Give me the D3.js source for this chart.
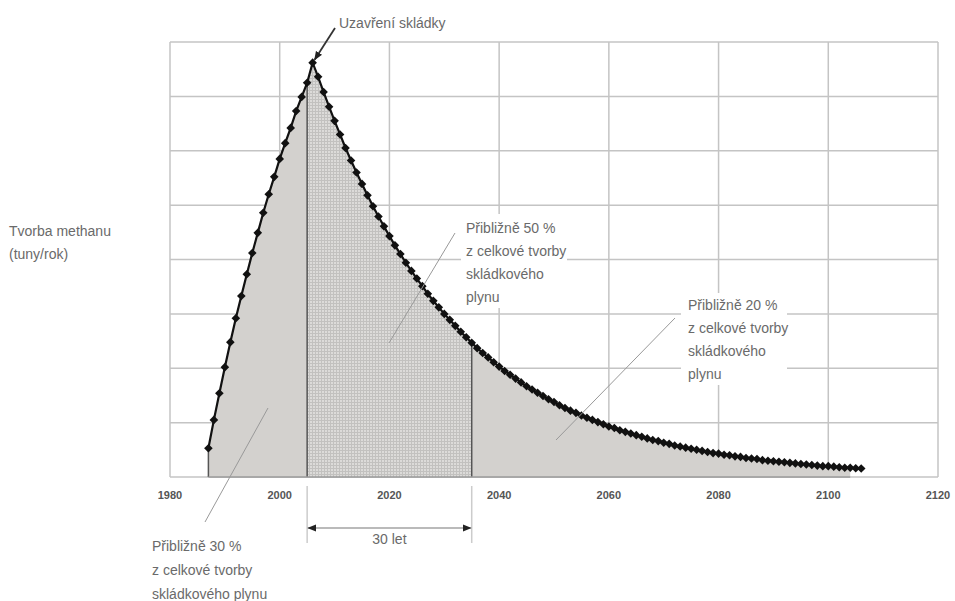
<!DOCTYPE html>
<html>
<head>
<meta charset="utf-8">
<script src="https://cdn.jsdelivr.net/npm/d3@7"></script>
<style>
body { margin: 0; background: #fff; }
text { font-family: "Liberation Sans", Arial, sans-serif; }
</style>
</head>
<body>
<div id="container"></div>
<script>
// methane production per year (arbitrary units, 8 grid bands), 1987..2106
let firstYear = 1987;
let methane = [
  0.53, 1.05, 1.54, 2.02, 2.48, 2.92, 3.33, 3.73, 4.12, 4.49,
  4.86, 5.20, 5.52, 5.85, 6.14, 6.42, 6.73, 6.99, 7.25, 7.62,
  7.36, 7.08, 6.81, 6.55, 6.30, 6.05, 5.82, 5.60, 5.39, 5.18,
  4.98, 4.79, 4.61, 4.43, 4.26, 4.10, 3.94, 3.79, 3.65, 3.51,
  3.37, 3.24, 3.12, 3.00, 2.89, 2.78, 2.67, 2.57, 2.47, 2.37,
  2.28, 2.20, 2.11, 2.03, 1.95, 1.88, 1.81, 1.74, 1.67, 1.61,
  1.55, 1.49, 1.43, 1.38, 1.32, 1.27, 1.22, 1.18, 1.13, 1.09,
  1.05, 1.01, 0.97, 0.93, 0.90, 0.86, 0.83, 0.80, 0.77, 0.74,
  0.71, 0.68, 0.66, 0.63, 0.61, 0.58, 0.56, 0.54, 0.52, 0.50,
  0.48, 0.46, 0.44, 0.43, 0.41, 0.40, 0.38, 0.37, 0.35, 0.34,
  0.33, 0.31, 0.30, 0.29, 0.28, 0.27, 0.26, 0.25, 0.24, 0.23,
  0.22, 0.21, 0.20, 0.20, 0.19, 0.18, 0.17, 0.17, 0.16, 0.155
];
let xTicks = [1980, 2000, 2020, 2040, 2060, 2080, 2100, 2120];
let yGrid = [0, 1, 2, 3, 4, 5, 6, 7, 8];
let closureYear = 2005;
let periodEnd = 2035;
let fillEnd = 2104;

let yAxisLabel = ["Tvorba methanu", "(tuny/rok)"];
let closureLabel = "Uzavření skládky";
let note50 = ["Přibližně 50 %", "z celkové tvorby", "skládkového", "plynu"];
let note20 = ["Přibližně 20 %", "z celkové tvorby", "skládkového", "plynu"];
let note30 = ["Přibližně 30 %", "z celkové tvorby", "skládkového plynu"];
let periodLabel = "30 let";

let w = 955;
let h = 601;

let data = methane.map(function(v, i){ return {year: firstYear + i, value: v}; });

let xScale = d3.scaleLinear().domain([1980, 2120]).range([170, 938]);
let yScale = d3.scaleLinear().domain([0, 8]).range([477, 42]);

let viz = d3.select("#container")
  .append("svg")
    .attr("width", w)
    .attr("height", h)
    .style("background-color", "white")
;

let defs = viz.append("defs");

let pat = defs.append("pattern")
    .attr("id", "mesh")
    .attr("width", 3)
    .attr("height", 3)
    .attr("patternUnits", "userSpaceOnUse")
;
pat.append("rect").attr("width", 3).attr("height", 3).attr("fill", "#dcdbd9");
pat.append("path").attr("d", "M0,0.5H3M0.5,0V3").attr("stroke", "#c2c1bf").attr("stroke-width", 1);

defs.append("marker")
    .attr("id", "arrow")
    .attr("viewBox", "0 0 10 10")
    .attr("refX", 9)
    .attr("refY", 5)
    .attr("markerWidth", 9)
    .attr("markerHeight", 9)
    .attr("markerUnits", "userSpaceOnUse")
    .attr("orient", "auto-start-reverse")
  .append("path")
    .attr("d", "M0,1L10,5L0,9Z")
    .attr("fill", "#222")
;

// grid
viz.append("g").selectAll("line").data(xTicks).enter().append("line")
    .attr("x1", function(d){ return xScale(d); })
    .attr("x2", function(d){ return xScale(d); })
    .attr("y1", yScale(8))
    .attr("y2", yScale(0))
    .attr("stroke", "#c4c4c4")
    .attr("stroke-width", 1.5)
;
viz.append("g").selectAll("line").data(yGrid).enter().append("line")
    .attr("x1", xScale(1980))
    .attr("x2", xScale(2120))
    .attr("y1", function(d){ return yScale(d); })
    .attr("y2", function(d){ return yScale(d); })
    .attr("stroke", "#c4c4c4")
    .attr("stroke-width", 1.5)
;

// filled areas
let area = d3.area()
    .x(function(d){ return xScale(d.year); })
    .y0(yScale(0))
    .y1(function(d){ return yScale(d.value); })
;

viz.append("path")
    .datum(data.filter(function(d){ return d.year <= fillEnd; }))
    .attr("d", area)
    .attr("fill", "#d3d1ce")
;

viz.append("path")
    .datum(data.filter(function(d){ return d.year >= closureYear && d.year <= periodEnd; }))
    .attr("d", area)
    .attr("fill", "url(#mesh)")
;

function valueAt(yr){
    return data.find(function(d){ return d.year == yr; }).value;
}

// region boundaries
viz.append("g").selectAll("line").data([firstYear, closureYear, periodEnd]).enter().append("line")
    .attr("x1", function(d){ return xScale(d); })
    .attr("x2", function(d){ return xScale(d); })
    .attr("y1", yScale(0))
    .attr("y2", function(d){ return yScale(valueAt(d)); })
    .attr("stroke", "#555")
    .attr("stroke-width", 1.5)
;

viz.append("line")
    .attr("x1", xScale(firstYear))
    .attr("x2", xScale(fillEnd))
    .attr("y1", yScale(0))
    .attr("y2", yScale(0))
    .attr("stroke", "#9a9a9a")
    .attr("stroke-width", 1.5)
;

// curve + markers
let line = d3.line()
    .x(function(d){ return xScale(d.year); })
    .y(function(d){ return yScale(d.value); })
;
viz.append("path")
    .datum(data)
    .attr("d", line)
    .attr("fill", "none")
    .attr("stroke", "#111")
    .attr("stroke-width", 2.2)
;
viz.append("g").selectAll("path").data(data).enter().append("path")
    .attr("d", "M0,-4.3L4.3,0L0,4.3L-4.3,0Z")
    .attr("transform", function(d){ return "translate(" + xScale(d.year) + "," + yScale(d.value) + ")"; })
    .attr("fill", "#111")
;

// tick labels
viz.append("g").selectAll("text").data(xTicks).enter().append("text")
    .text(function(d){ return d; })
    .attr("x", function(d){ return xScale(d); })
    .attr("y", 499)
    .attr("text-anchor", "middle")
    .attr("fill", "#555")
    .style("font-size", "11px")
    .style("font-weight", "bold")
;

// text blocks
function textBlock(lines, x, y, gap){
    let g = viz.append("g");
    g.selectAll("text").data(lines).enter().append("text")
        .text(function(d){ return d; })
        .attr("x", x)
        .attr("y", function(d, i){ return y + i * gap; })
        .attr("fill", "#6a6a6a")
        .style("font-size", "14px")
    ;
    return g;
}

textBlock(yAxisLabel, 9, 236, 23);

// 50 % note
viz.append("line").attr("x1", 455).attr("y1", 233).attr("x2", 389).attr("y2", 343)
    .attr("stroke", "#999").attr("stroke-width", 1);
viz.append("rect").attr("x", 461).attr("y", 214).attr("width", 106).attr("height", 94).attr("fill", "white");
textBlock(note50, 466, 233, 23);

// 20 % note
viz.append("line").attr("x1", 675).attr("y1", 318).attr("x2", 556).attr("y2", 440)
    .attr("stroke", "#999").attr("stroke-width", 1);
viz.append("rect").attr("x", 681).attr("y", 293).attr("width", 106).attr("height", 92).attr("fill", "white");
textBlock(note20, 688, 310, 23);

// 30 % note
viz.append("line").attr("x1", 268).attr("y1", 408).attr("x2", 205).attr("y2", 522)
    .attr("stroke", "#999").attr("stroke-width", 1);
textBlock(note30, 152, 551, 24);

// closure arrow
viz.append("line")
    .attr("x1", 335).attr("y1", 28)
    .attr("x2", xScale(2006) + 2).attr("y2", yScale(valueAt(2006)) - 3)
    .attr("stroke", "#333")
    .attr("stroke-width", 1.8)
    .attr("marker-end", "url(#arrow)")
;
viz.append("text")
    .text(closureLabel)
    .attr("x", 339)
    .attr("y", 28)
    .attr("fill", "#6a6a6a")
    .style("font-size", "14px")
;

// 30 years dimension
viz.append("g").selectAll("line").data([closureYear, periodEnd]).enter().append("line")
    .attr("x1", function(d){ return xScale(d); })
    .attr("x2", function(d){ return xScale(d); })
    .attr("y1", 486)
    .attr("y2", 543)
    .attr("stroke", "#ccc")
    .attr("stroke-width", 1.5)
;
viz.append("line")
    .attr("x1", xScale(closureYear) + 1).attr("y1", 528)
    .attr("x2", xScale(periodEnd) - 1).attr("y2", 528)
    .attr("stroke", "#777")
    .attr("stroke-width", 1.2)
    .attr("marker-start", "url(#arrow)")
    .attr("marker-end", "url(#arrow)")
;
viz.append("text")
    .text(periodLabel)
    .attr("x", (xScale(closureYear) + xScale(periodEnd)) / 2)
    .attr("y", 544)
    .attr("text-anchor", "middle")
    .attr("fill", "#6a6a6a")
    .style("font-size", "14px")
;
</script>
</body>
</html>
